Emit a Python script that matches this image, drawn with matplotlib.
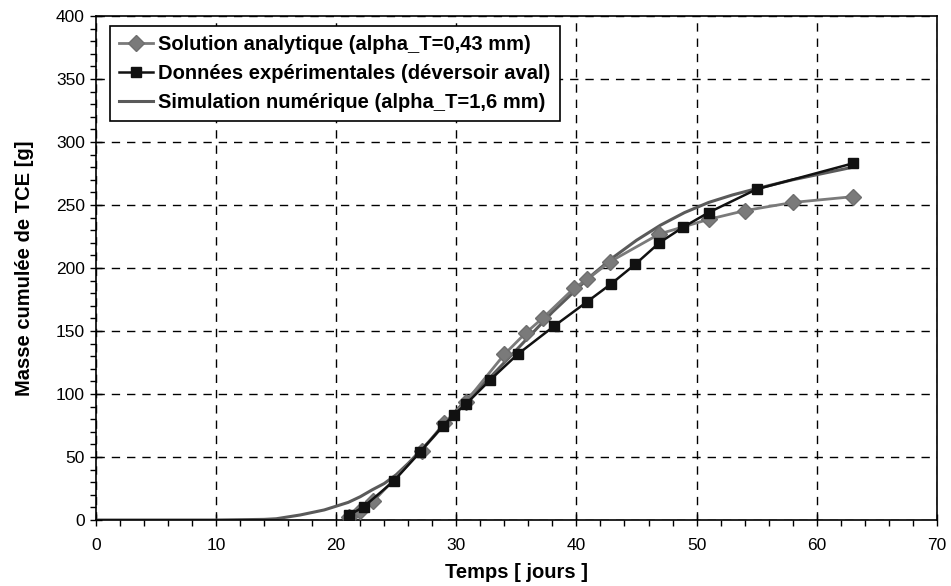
import matplotlib.pyplot as plt
from matplotlib.ticker import MultipleLocator

plt.rcParams['font.family'] = ['Liberation Sans', 'DejaVu Sans']

# Solution analytique (alpha_T=0,43 mm)
ana_t = [21.1, 22.0, 23.1, 27.1, 29.0, 30.8, 34.0, 35.8, 37.2, 39.8, 40.9, 42.8, 46.9, 51.0, 54.0, 58.0, 63.0]
ana_m = [2, 7, 15, 55, 77, 94, 131.5, 148.7, 160.3, 184, 191, 205, 227, 238.6, 245.5, 252, 256.6]

# Donnees experimentales (deversoir aval)
exp_t = [21.1, 22.3, 24.8, 27.0, 28.85, 29.8, 30.8, 32.8, 35.1, 38.1, 40.9, 42.9, 44.9, 46.9, 48.9, 51.0, 55.0, 63.0]
exp_m = [4, 10.6, 31, 54.2, 74.3, 83.6, 92, 111, 131.5, 153.6, 173.3, 187.5, 203, 220, 232.5, 244, 262.5, 283]

# Simulation numerique (alpha_T=1,6 mm)
sim_t = [0, 10, 14, 15, 17, 19, 20, 21, 22, 23, 24, 25, 26, 27, 28, 29, 30, 31, 32, 33, 34, 35,
         36, 37, 38, 39, 40, 41, 42, 43, 44, 45, 46, 47, 48, 49, 50, 51, 52, 53, 55, 58, 60, 63]
sim_m = [0, 0, 0.5, 1, 4, 8, 11, 14, 18.5, 24, 29, 36, 45, 55, 65, 76, 87, 97, 106, 115, 125, 135,
         145, 155, 165, 174, 183, 192, 200, 208, 215, 222, 228, 234, 239, 244, 248, 252, 255, 258, 263, 270, 274, 280]

fig = plt.figure(figsize=(9.51, 5.86), dpi=100)
ax = fig.add_axes([0.101, 0.1126, 0.884, 0.8601])

ax.plot(ana_t, ana_m, color='#7a7a7a', lw=2, marker='D', ms=8, mec='#6e6e6e', mfc='#7a7a7a',
        label='Solution analytique (alpha_T=0,43 mm)', zorder=3)
ax.plot(exp_t, exp_m, color='#111111', lw=1.8, marker='s', ms=6.5, mfc='#111111', mec='#111111',
        label='Données expérimentales (déversoir aval)', zorder=4)
ax.plot(sim_t, sim_m, color='#5a5a5a', lw=2.2, label='Simulation numérique (alpha_T=1,6 mm)', zorder=2)

ax.set_xlim(0, 70)
ax.set_ylim(0, 400)
ax.xaxis.set_major_locator(MultipleLocator(10))
ax.xaxis.set_minor_locator(MultipleLocator(2))
ax.yaxis.set_major_locator(MultipleLocator(50))
ax.yaxis.set_minor_locator(MultipleLocator(10))
ax.tick_params(which='major', direction='inout', length=8, width=1, labelsize=12.5)
ax.tick_params(axis='x', which='major', pad=9)
ax.tick_params(axis='y', which='major', pad=4)
ax.tick_params(which='minor', direction='out', length=4, width=1)

ax.grid(True, which='major', color='black', linestyle=(0, (6, 5)), lw=1)
for s in ax.spines.values():
    s.set_linewidth(1.2)

ax.set_xlabel('Temps [ jours ]', fontsize=14.5, fontweight='bold', labelpad=7)
ax.set_ylabel('Masse cumulée de TCE [g]', fontsize=14.5, fontweight='bold', labelpad=16)

leg = ax.legend(loc='upper left', bbox_to_anchor=(0.0166, 0.98), prop={'weight': 'bold', 'size': 14.5},
                frameon=True, fancybox=False, edgecolor='black', framealpha=1,
                handlelength=1.7, handletextpad=0.25, borderpad=0.45, labelspacing=0.5,
                borderaxespad=0)
leg.get_frame().set_linewidth(1.2)

fig.savefig('out.png', dpi=100)
